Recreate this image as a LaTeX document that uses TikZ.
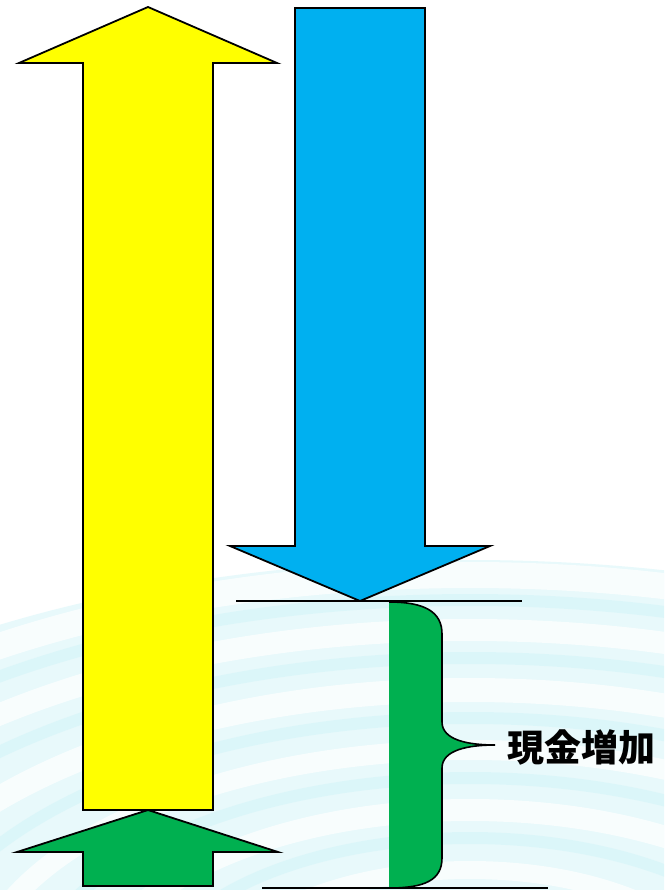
\documentclass[tikz,border=0pt]{standalone}
\usepackage{fontspec}
\newfontfamily\cjk{Noto Sans CJK JP}
\definecolor{ayellow}{RGB}{255,255,0}
\definecolor{ablue}{RGB}{0,176,240}
\definecolor{agreen}{RGB}{0,176,80}
\definecolor{ripple}{RGB}{205,243,248}
\tikzset{
  arrowshape/.style={draw=black, line width=1.8pt, line join=miter},
  thinline/.style={draw=black, line width=1.3pt},
  ring/.style={draw=ripple, line width=#1, opacity=0.45},
  lbl/.style={font=\cjk\bfseries\fontsize{37}{42}\selectfont, inner sep=0pt}
}
\begin{document}
\begin{tikzpicture}[x=1pt,y=-1pt]
\useasboundingbox (0,0) rectangle (664,890);
\fill[white] (0,0) rectangle (664,890);
% background ripples
\begin{scope}
\clip (0,0) rectangle (664,890);
\fill[ripple, opacity=0.45] (470,1000) ellipse [x radius=900, y radius=440];
\foreach \r/\w in {425/26,370/22,310/24,250/20,190/22,130/18}{
  \draw[white, line width=\w, opacity=0.7] (470,1000) ellipse [x radius=2.0*\r, y radius=\r];
}
\foreach \r in {400,342,282,222,162}{
  \draw[ring=12] (470,1000) ellipse [x radius=2.0*\r, y radius=\r];
}
\end{scope}
% yellow up arrow
\draw[arrowshape, fill=ayellow] (148,7) -- (277,63) -- (213,63) -- (213,810) -- (83,810) -- (83,63) -- (19,63) -- cycle;
% blue down arrow
\draw[arrowshape, fill=ablue] (295,8) -- (425,8) -- (425,546) -- (490,546) -- (360,601) -- (230,546) -- (295,546) -- cycle;
% green up arrow
\draw[arrowshape, fill=agreen] (148,810) -- (278,852) -- (213,852) -- (213,886) -- (83,886) -- (83,852) -- (17,852) -- cycle;
% horizontal lines
\coordinate (t1) at (236,601); \coordinate (t2) at (522,601);
\coordinate (b1) at (262,888); \coordinate (b2) at (548,888);
\draw[thinline] (t1) -- (t2);
\draw[thinline] (b1) -- (b2);
% green brace area
\fill[agreen] (389,602) .. controls (425,602) and (442,612) .. (442,634) -- (442,722)
  .. controls (442,740) and (468,745) .. (495,745)
  .. controls (468,745) and (442,750) .. (442,768) -- (442,858)
  .. controls (442,880) and (425,888) .. (389,888) -- cycle;
\draw[black, line width=1.6pt] (389,602) .. controls (425,602) and (442,612) .. (442,634) -- (442,722)
  .. controls (442,740) and (468,745) .. (495,745)
  .. controls (468,745) and (442,750) .. (442,768) -- (442,858)
  .. controls (442,880) and (425,888) .. (389,888);
\node[lbl, anchor=west] (label) at (507,747) {現金増加};
\end{tikzpicture}
\end{document}
